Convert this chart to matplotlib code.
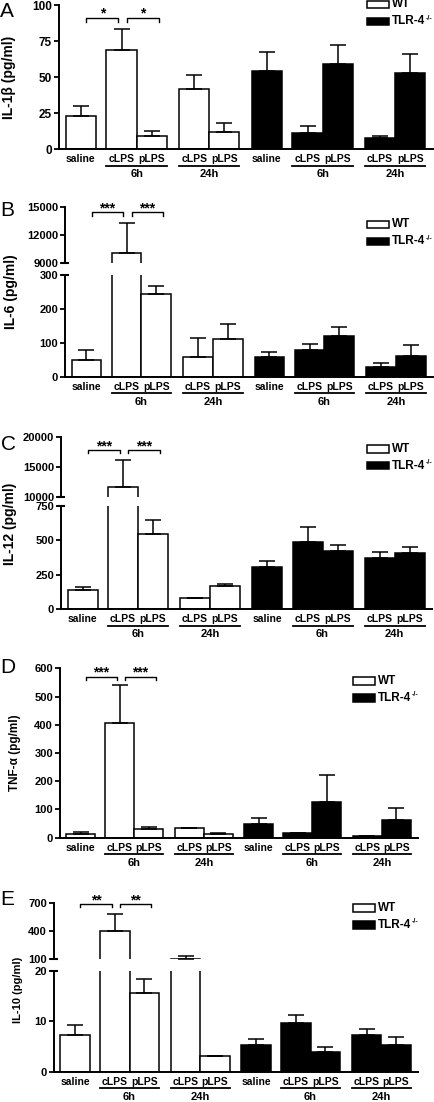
import matplotlib
matplotlib.use('Agg')
import matplotlib.pyplot as plt
from matplotlib.patches import Rectangle
from matplotlib.transforms import blended_transform_factory, ScaledTranslation

plt.rcParams['font.family'] = ['Liberation Sans', 'DejaVu Sans']
plt.rcParams['font.weight'] = 'bold'

#*************************************************************************#
# data (pg/ml), order: WT saline, 6h cLPS, 6h pLPS, 24h cLPS, 24h pLPS, then TLR-4-/- same
BarNames = ['saline', 'cLPS', 'pLPS', 'cLPS', 'pLPS', 'saline', 'cLPS', 'pLPS', 'cLPS', 'pLPS']
TimeNames = ['6h', '24h', '6h', '24h']
LegendNames = ['WT', 'TLR-4']

IL1b     = [23, 68.7, 9.3, 41.4, 12, 54.2, 10.9, 59, 7.4, 53]
IL1b_err = [6.9, 14.6, 3.2, 10.2, 6.3, 12.9, 5.1, 13.5, 1.6, 13]

IL6      = [49, 10130, 244, 59, 110, 57, 79, 119, 29.5, 62]
IL6_err  = [30, 3105, 23.5, 54, 45, 17, 16, 28.5, 9.5, 31]

IL12     = [138, 11685, 546, 82, 170, 303, 490, 420, 374, 408]
IL12_err = [20, 4495, 102, 0, 14, 47, 104, 44, 39, 46]

TNF      = [11.8, 405, 30.7, 35.4, 14, 47.4, 16.6, 127.5, 6, 61.5]
TNF_err  = [9.2, 136, 7.1, 0, 2.5, 21.3, 0.4, 93.5, 0, 44.5]

IL10     = [7.3, 400, 15.7, 106, 3.2, 5.3, 9.7, 4.0, 7.2, 5.4]
IL10_err = [2, 185, 2.8, 32, 0, 1.2, 1.6, 1.0, 1.3, 1.4]

#*************************************************************************#
W, H = 435, 1102
fig = plt.figure(figsize=(W/100, H/100), dpi=100)

pos = [0, 1.35, 2.35, 3.75, 4.75, 6.15, 7.5, 8.5, 9.9, 10.9]
pairs = [(1, 2), (3, 4), (6, 7), (8, 9)]
cols = ['white']*5 + ['black']*5


def f_axes(left, top, right, bottom):
    # pixel box -> figure axes
    return fig.add_axes([left/W, 1-bottom/H, (right-left)/W, (bottom-top)/H])


def f_bars(ax, vals, errs):
    ax.bar(pos, vals, width=1.0, color=cols, edgecolor='black', linewidth=1.1, zorder=2)
    ax.errorbar(pos, vals, yerr=[[0]*len(vals), errs], fmt='none', ecolor='black',
                elinewidth=1.1, capsize=5.5, capthick=1.1, zorder=3)


def f_style(ax, ylim, yticks, bottom=True, brk=None, lsize=8.5):
    ax.set_xlim(-0.72, 11.65)
    ax.set_ylim(ylim)
    ax.set_yticks(yticks)
    ax.set_xticks([])
    ax.spines['top'].set_visible(False)
    ax.spines['right'].set_visible(False)
    if not bottom:
        ax.spines['bottom'].set_visible(False)
    for s in ['left', 'bottom']:
        ax.spines[s].set_linewidth(1.4)
    ax.tick_params(axis='y', direction='out', length=3.5, width=1.3, labelsize=lsize, pad=1.5)
    ax.patch.set_visible(False)
    if brk is not None:
        # small cross mark at the axis break
        ax.plot([0], [brk], marker='_', ms=6, mew=1.5, color='k',
                transform=ax.transAxes, clip_on=False)


def f_xlabels(ax):
    trans = blended_transform_factory(ax.transData, ax.transAxes)
    def off(px):
        return trans + ScaledTranslation(0, -px/100, fig.dpi_scale_trans)
    for i in range(len(pos)):
        ax.text(pos[i], 0, BarNames[i], transform=off(10.5), ha='center', va='center', fontsize=7.5)
    for k in range(len(pairs)):
        x0 = pos[pairs[k][0]] - 0.5
        x1 = pos[pairs[k][1]] + 0.5
        ax.plot([x0, x1], [0, 0], transform=off(16.5), color='k', lw=1.3, clip_on=False)
        ax.text((x0+x1)/2, 0, TimeNames[k], transform=off(25), ha='center', va='center', fontsize=8)


def f_brackets(ax, ytop, yleg, stars):
    for (x0, x1) in [(0.18, 1.24), (1.52, 2.58)]:
        ax.plot([x0, x0, x1, x1], [yleg, ytop, ytop, yleg], color='k', lw=1.0, clip_on=False)
        ax.text((x0+x1)/2, ytop, stars, ha='center', va='baseline', fontsize=10, clip_on=False)


def f_legend(ax, x, y):
    for k in range(2):
        yy = y + 17*k
        fig.patches.append(Rectangle((x/W, 1-(yy+7.5)/H), 22/W, 7.5/H, transform=fig.transFigure,
                                     facecolor=['white', 'black'][k], edgecolor='black', lw=1.1))
        t = fig.text((x+25)/W, 1-(yy+3.75)/H, LegendNames[k], ha='left', va='center', fontsize=8.5)
        if k == 1:
            ax.annotate('-/-', xy=(1, 1), xycoords=t, xytext=(0.3, 0.5), textcoords='offset points',
                        ha='left', va='top', fontsize=5, annotation_clip=False)


def f_letters(s, x, y):
    fig.text(x/W, 1-y/H, s, ha='left', va='top', fontsize=15, fontweight='normal')


def f_ylabel(s, x, y, size):
    fig.text(x/W, 1-y/H, s, rotation=90, ha='center', va='center', fontsize=size)


#-------------------------------------------------------------------------#
# A : IL-1b
axA = f_axes(59, 5, 433, 149)
f_bars(axA, IL1b, IL1b_err)
f_style(axA, (0, 100), [0, 25, 50, 75, 100])
f_xlabels(axA)
f_brackets(axA, 91.2, 88.4, '*')
f_legend(axA, 367, 0.5)
f_letters('A', 0, 2)
f_ylabel('IL-1β (pg/ml)', 9, 77, 10)

# B : IL-6 (broken axis)
axB1 = f_axes(65, 206.7, 433, 263.3)
axB0 = f_axes(65, 275, 433, 376.7)
for ax in [axB1, axB0]:
    f_bars(ax, IL6, IL6_err)
f_style(axB1, (9000, 15000), [9000, 12000, 15000], bottom=False, brk=0, lsize=8)
f_style(axB0, (0, 300), [0, 100, 200, 300], brk=1, lsize=8)
f_xlabels(axB0)
f_brackets(axB1, 14406, 14046, '***')
f_legend(axB1, 367, 220.7)
f_letters('B', 0, 201)
f_ylabel('IL-6 (pg/ml)', 11, 292, 10)

# C : IL-12 (broken axis)
axC1 = f_axes(61, 437.3, 432, 496.7)
axC0 = f_axes(61, 506, 432, 609)
for ax in [axC1, axC0]:
    f_bars(ax, IL12, IL12_err)
f_style(axC1, (10000, 20000), [10000, 15000, 20000], bottom=False, brk=0, lsize=8)
f_style(axC0, (0, 750), [0, 250, 500, 750], brk=1, lsize=8)
f_xlabels(axC0)
f_brackets(axC1, 17860, 17300, '***')
f_legend(axC1, 367, 445)
f_letters('C', 1, 435)
f_ylabel('IL-12 (pg/ml)', 10, 524, 10)

# D : TNF-a
axD = f_axes(60, 668.3, 418, 837.7)
f_bars(axD, TNF, TNF_err)
f_style(axD, (0, 600), [0, 100, 200, 300, 400, 500, 600], lsize=8)
f_xlabels(axD)
f_brackets(axD, 570, 558.6, '***')
f_legend(axD, 353, 677)
f_letters('D', 0, 658)
f_ylabel('TNF-α (pg/ml)', 15, 753, 8.5)

# E : IL-10 (broken axis)
axE1 = f_axes(54, 902.7, 418, 959.3)
axE0 = f_axes(54, 971, 418, 1071.7)
for ax in [axE1, axE0]:
    f_bars(ax, IL10, IL10_err)
f_style(axE1, (100, 700), [100, 400, 700], bottom=False, brk=0, lsize=8)
f_style(axE0, (0, 20), [0, 10, 20], brk=1, lsize=8)
f_xlabels(axE0)
f_brackets(axE1, 686, 651, '**')
f_legend(axE1, 353, 904)
f_letters('E', 0, 890)
f_ylabel('IL-10 (pg/ml)', 18, 990, 8)

fig.savefig('out.png', dpi=100)
print("end")
